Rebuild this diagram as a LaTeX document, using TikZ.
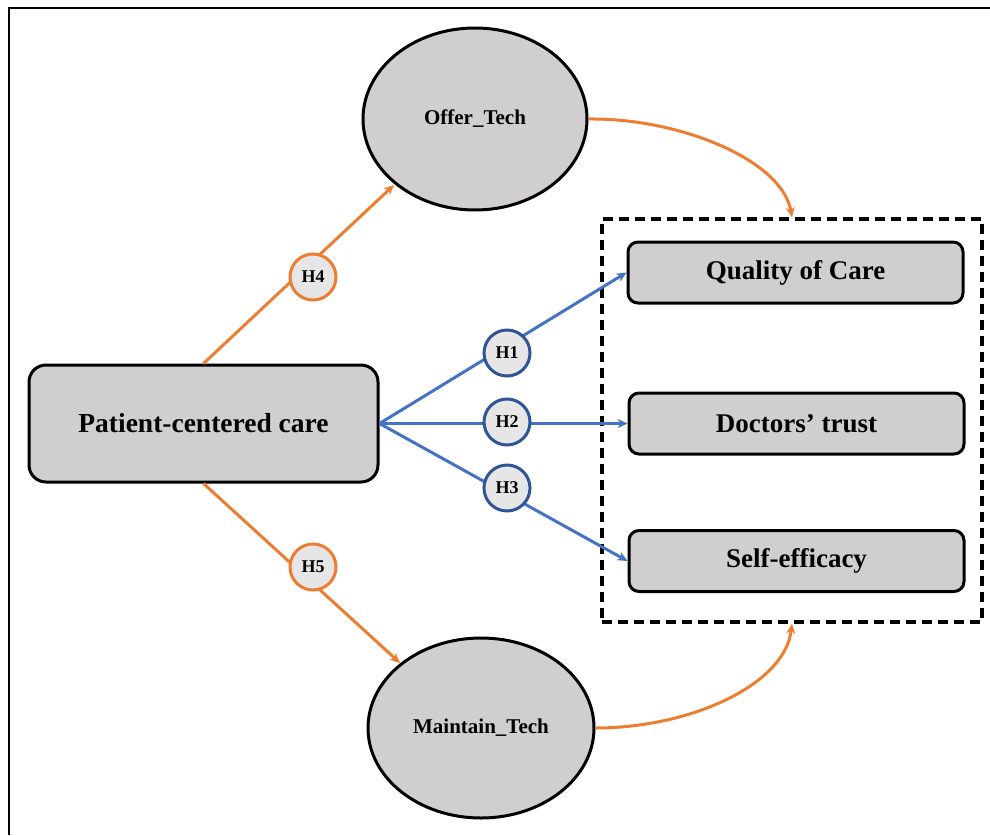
\documentclass[tikz,border=0pt]{standalone}
\usepackage{fontspec}
\setmainfont{Liberation Serif}
\usetikzlibrary{arrows.meta,shapes.geometric}
\definecolor{boxgrey}{HTML}{D0CECE}
\definecolor{circgrey}{HTML}{E7E6E6}
\definecolor{orng}{HTML}{ED7D31}
\definecolor{blu}{HTML}{4472C4}
\definecolor{dblu}{HTML}{2F5597}
\tikzset{
  bigbox/.style={draw=black, line width=3pt, fill=boxgrey, rounded corners=17pt, inner sep=0pt,
    minimum width=349pt, minimum height=117pt, font=\fontsize{27.5}{30}\selectfont\bfseries},
  outbox/.style={draw=black, line width=3pt, fill=boxgrey, rounded corners=10pt, inner sep=0pt,
    minimum width=335pt, minimum height=61pt, font=\fontsize{27}{30}\selectfont\bfseries},
  ell/.style={draw=black, line width=3pt, fill=boxgrey, ellipse, inner sep=0pt,
    font=\fontsize{21}{24}\selectfont\bfseries},
  hblue/.style={circle, draw=dblu, line width=3pt, fill=circgrey, inner sep=0pt, minimum size=46pt,
    font=\fontsize{18}{20}\selectfont\bfseries},
  horng/.style={circle, draw=orng, line width=3pt, fill=circgrey, inner sep=0pt, minimum size=46pt,
    font=\fontsize{18}{20}\selectfont\bfseries},
  bline/.style={draw=blu, line width=3pt},
  oline/.style={draw=orng, line width=3pt},
  tip/.style={-{Stealth[length=10pt,width=9pt]}},
  grpbox/.style={draw=black, line width=3.5pt, dash pattern=on 10pt off 6pt, inner sep=0pt,
    minimum width=380pt, minimum height=403pt}
}
\begin{document}
\begin{tikzpicture}[x=1pt,y=-1pt]
\useasboundingbox (0,0) rectangle (990,835);
\draw[line width=2.5pt] (9,835) -- (9,8) -- (990,8);

\node[grpbox] (grp) at (792,420.5) {};
\node[bigbox] (pcc) at (203.5,423.5) {Patient-centered care};
\node[outbox] (qoc) at (795.5,272.5) {Quality of Care};
\node[outbox] (dt) at (796.5,423.5) {Doctors’ trust};
\node[outbox] (se) at (796.5,561) {Self-efficacy};
\node[ell, minimum width=224pt, minimum height=182pt] (offer) at (475,119) {Offer\_Tech};
\node[ell, minimum width=226pt, minimum height=180pt] (maint) at (481,728) {Maintain\_Tech};

\coordinate (offin) at (394,185);
\coordinate (mtin) at (400,663);

\draw[bline,tip] (pcc.east) -- (qoc.west);
\draw[bline,tip] (pcc.east) -- (dt.west);
\draw[bline,tip] (pcc.east) -- (se.west);
\draw[oline,tip] (pcc.north) -- (offin);
\draw[oline,tip] (pcc.south) -- (mtin);

\node[hblue] (h1) at (507,353) {H1};
\node[hblue] (h2) at (507,422) {H2};
\node[hblue] (h3) at (507,488) {H3};
\node[horng] (h4) at (313,277) {H4};
\node[horng] (h5) at (313,567) {H5};

\draw[oline,tip] (offer.east) .. controls (680,118) and (782,160) .. (grp.north);
\draw[oline,tip] (maint.east) .. controls (690,728) and (785,685) .. (grp.south);
\end{tikzpicture}
\end{document}
